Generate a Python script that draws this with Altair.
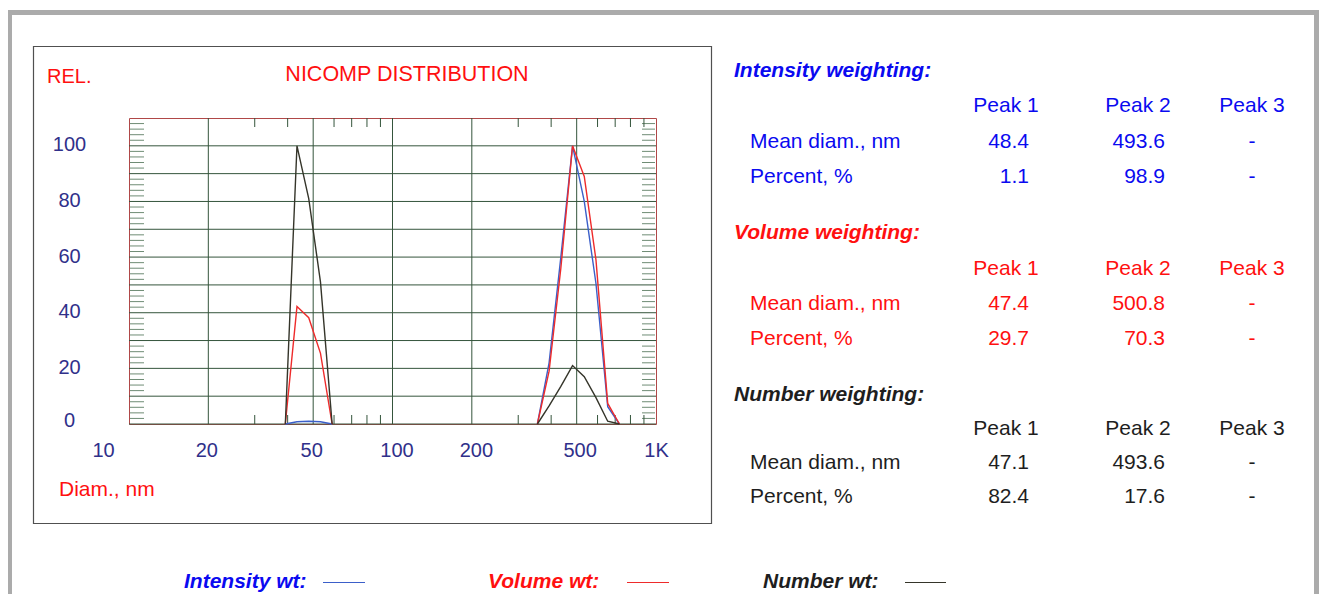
import altair as alt
import pandas as pd

# ---------------- data ----------------
peak1_diam = [39.2, 43.4, 48.1, 53.3, 59.0]
peak2_diam = [354.7, 392.9, 435.4, 482.3, 534.3, 591.8, 655.7, 726.4]

intensity_p1 = [0, 0.8, 1.0, 0.8, 0]
volume_p1 = [0, 42.2, 38.2, 25.4, 0]
number_p1 = [0, 100, 81, 51, 0]

intensity_p2 = [0, 22, 60, 100, 80, 50.5, 6.2, 0]
volume_p2 = [0, 19, 56, 100, 89, 59, 7.4, 0]
number_p2 = [0, 6.5, 13.5, 21, 17, 9.5, 1, 0]

series_names = ["Intensity", "Volume", "Number"]
legend_labels = ["Intensity wt:", "Volume wt:", "Number wt:"]
block_titles = ["Intensity weighting:", "Volume weighting:", "Number weighting:"]
peak_headers = ["Peak 1", "Peak 2", "Peak 3"]
row_labels = ["Mean diam., nm", "Percent, %"]
mean_diam = [["48.4", "493.6", "-"], ["47.4", "500.8", "-"], ["47.1", "493.6", "-"]]
percent = [["1.1", "98.9", "-"], ["29.7", "70.3", "-"], ["82.4", "17.6", "-"]]

x_tick_values = [10, 20, 50, 100, 200, 500, 1000]
x_tick_labels = ["10", "20", "50", "100", "200", "500", "1K"]
y_tick_values = [0, 20, 40, 60, 80, 100]
x_grid = [20, 50, 100, 200, 500]
y_grid = [0, 10, 20, 30, 40, 50, 60, 70, 80, 90, 100]
x_minor = [30, 40, 60, 70, 80, 90, 300, 400, 600, 700, 800, 900]
y_minor = [v for v in range(2, 110, 2) if v % 10 != 0]

title_text = "NICOMP DISTRIBUTION"
y_title = "REL."
x_title = "Diam., nm"

# ---------------- layout / style ----------------
FONT = "Liberation Sans"
W, H = 527, 306
TOTAL_W, TOTAL_H = 1311, 586
PAD_L, PAD_T = 121, 110
PAD_R, PAD_B = TOTAL_W - PAD_L - W, TOTAL_H - PAD_T - H
OX, OY = 8 + PAD_L, 8 + PAD_T  # page position of plot origin
RIGHT_EDGE = 8 + TOTAL_W
BOTTOM_EDGE = 8 + TOTAL_H


def px(X):
    return X - OX


def py(Y):
    return Y - OY


BLUE_T, RED_T, BLACK_T = "#0a0af0", "#ff1010", "#1e1e1e"
text_colors = [BLUE_T, RED_T, BLACK_T]
line_colors = ["#3b5fc9", "#ee2b2b", "#35352a"]
NAVY = "#30308a"
GRID = "#35553c"
MINOR = "#6f8c75"
FRAME_RED = "#b04848"

rows = []
for d, a, b, c in zip(peak1_diam, intensity_p1, volume_p1, number_p1):
    rows += [dict(diam=d, rel=a, series="Intensity", peak=1),
             dict(diam=d, rel=b, series="Volume", peak=1),
             dict(diam=d, rel=c, series="Number", peak=1)]
for d, a, b, c in zip(peak2_diam, intensity_p2, volume_p2, number_p2):
    rows += [dict(diam=d, rel=a, series="Intensity", peak=2),
             dict(diam=d, rel=b, series="Volume", peak=2),
             dict(diam=d, rel=c, series="Number", peak=2)]
df = pd.DataFrame(rows)

xs = alt.Scale(type="log", domain=[10, 1000], nice=False)
ys = alt.Scale(domain=[0, 110], nice=False, zero=False)

label_expr = "[" + ",".join("'%s'" % s for s in x_tick_labels) + "][indexof([" + \
    ",".join(str(v) for v in x_tick_values) + "], datum.value)]"

x_axis = alt.Axis(values=x_tick_values, labelExpr=label_expr, grid=False, domain=False,
                  ticks=False, tickSize=0, labelPadding=26, labelBaseline="middle",
                  labelFontSize=20, labelColor=NAVY, labelFont=FONT, title=None,
                  labelFlush=False, labelOverlap=False,
                  labelOffset={"condition": [
                      {"test": "datum.value == 10", "value": -26},
                      {"test": "datum.value == 100 || datum.value == 200", "value": 4},
                      {"test": "datum.value == 500", "value": 3},
                      {"test": "datum.value == 20 || datum.value == 50", "value": -2}],
                      "value": 0})
y_axis = alt.Axis(values=y_tick_values, grid=False, domain=False, ticks=False, tickSize=0,
                  labelPadding=60, labelAlign="center", labelBaseline="middle",
                  labelFontSize=20, labelColor=NAVY, labelFont=FONT, title=None,
                  labelFlush=False, labelOverlap=False,
                  labelOffset={"condition": {"test": "datum.value == 0", "value": -4}, "value": -1})

one = pd.DataFrame({"k": [0]})
layers = []

# outer gray frame (top, left, right bands)
for (x1, x2, y1, y2) in [(8, RIGHT_EDGE, 10, 15), (8, 12, 10, BOTTOM_EDGE),
                         (RIGHT_EDGE - 5, RIGHT_EDGE, 10, BOTTOM_EDGE)]:
    layers.append(alt.Chart(one).mark_rect(color="#ababab").encode(
        x=alt.value(px(x1)), x2=alt.value(px(x2)), y=alt.value(py(y1)), y2=alt.value(py(y2))))

# inner chart box
layers.append(alt.Chart(one).mark_rect(fillOpacity=0, stroke="#505050", strokeWidth=1.2).encode(
    x=alt.value(px(33.5)), x2=alt.value(px(711.5)), y=alt.value(py(46.5)), y2=alt.value(py(523.5))))

# grid lines
layers.append(alt.Chart(pd.DataFrame({"v": y_grid})).mark_rule(color=GRID, strokeWidth=1).encode(
    y=alt.Y("v:Q", scale=ys, axis=y_axis), x=alt.value(0), x2=alt.value(W)))
layers.append(alt.Chart(pd.DataFrame({"v": x_grid})).mark_rule(color=GRID, strokeWidth=1).encode(
    x=alt.X("v:Q", scale=xs, axis=x_axis), y=alt.value(0), y2=alt.value(H)))

# minor ticks
layers.append(alt.Chart(pd.DataFrame({"v": y_minor})).mark_rule(color=MINOR, strokeWidth=1).encode(
    y=alt.Y("v:Q", scale=ys, axis=y_axis), x=alt.value(1), x2=alt.value(15)))
layers.append(alt.Chart(pd.DataFrame({"v": y_minor})).mark_rule(color=MINOR, strokeWidth=1).encode(
    y=alt.Y("v:Q", scale=ys, axis=y_axis), x=alt.value(W - 14), x2=alt.value(W - 1)))
layers.append(alt.Chart(pd.DataFrame({"v": x_minor})).mark_rule(color=GRID, strokeWidth=1).encode(
    x=alt.X("v:Q", scale=xs, axis=x_axis), y=alt.value(0), y2=alt.value(9)))
layers.append(alt.Chart(pd.DataFrame({"v": x_minor})).mark_rule(color=GRID, strokeWidth=1).encode(
    x=alt.X("v:Q", scale=xs, axis=x_axis), y=alt.value(H - 9), y2=alt.value(H)))

# data lines
layers.append(alt.Chart(df).mark_line(strokeWidth=1.4).encode(
    x=alt.X("diam:Q", scale=xs, axis=x_axis),
    y=alt.Y("rel:Q", scale=ys, axis=y_axis),
    color=alt.Color("series:N", scale=alt.Scale(domain=series_names, range=line_colors), legend=None),
    detail="peak:N",
    order=alt.Order("diam:Q")))


def text_layer(s, X, Y, color, size=20, align="left", weight="normal", style="normal"):
    return alt.Chart(pd.DataFrame({"t": [s]})).mark_text(
        align=align, baseline="middle", font=FONT, fontSize=size, fontWeight=weight,
        fontStyle=style, color=color).encode(x=alt.value(px(X)), y=alt.value(py(Y)), text="t:N")


# chart texts
layers.append(text_layer(y_title, 47, 77, RED_T, 20))
layers.append(text_layer(title_text, 407, 75, RED_T, 21.5, align="center"))
layers.append(text_layer(x_title, 59, 490, RED_T, 21))

# table
block_rows_y = [[71, 106, 142, 177], [233, 269, 304, 339], [395, 429, 463, 497]]
peak_cx = [1006, 1138, 1252]
val_right = [1029, 1165]
for b in range(3):
    col = text_colors[b]
    yh, yp, ym, yc = block_rows_y[b]
    layers.append(text_layer(block_titles[b], 734, yh, col, 21, weight="bold", style="italic"))
    for i, h in enumerate(peak_headers):
        layers.append(text_layer(h, peak_cx[i], yp, col, 21, align="center"))
    for r, (lab, vals, yy) in enumerate(zip(row_labels, [mean_diam[b], percent[b]], [ym, yc])):
        layers.append(text_layer(lab, 750, yy, col, 21))
        for i, v in enumerate(vals):
            if i < 2:
                layers.append(text_layer(v, val_right[i], yy, col, 21, align="right"))
            else:
                layers.append(text_layer(v, peak_cx[i], yy, col, 21, align="center"))

# legend
leg_text_x = [184, 488, 763]
leg_line_x = [(323, 365), (627, 669), (905, 946)]
for i in range(3):
    layers.append(text_layer(legend_labels[i], leg_text_x[i], 582, text_colors[i], 21,
                             weight="bold", style="italic"))
    layers.append(alt.Chart(one).mark_rule(color=line_colors[i], strokeWidth=1.2).encode(
        x=alt.value(px(leg_line_x[i][0])), x2=alt.value(px(leg_line_x[i][1])),
        y=alt.value(py(582.5))))

chart = alt.layer(*layers).properties(
    width=W, height=H,
    autosize=alt.AutoSizeParams(type="none"),
    padding={"left": PAD_L, "top": PAD_T, "right": PAD_R, "bottom": PAD_B},
    background="white",
).configure_view(stroke=FRAME_RED, strokeWidth=1)

chart.save("out.html", embed_options={"renderer": "svg", "actions": False})
